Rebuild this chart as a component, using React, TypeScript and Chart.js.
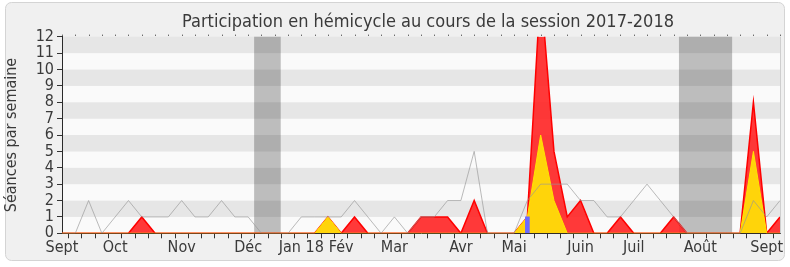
import React, { useEffect, useRef } from 'react';
import { Chart, registerables } from 'chart.js';

Chart.register(...registerables);

const chartTitle = 'Participation en hémicycle au cours de la session 2017-2018';
const yTitle = 'Séances par semaine';
const monthNames = ['Sept', 'Oct', 'Nov', 'Déc', 'Jan 18', 'Fév', 'Mar', 'Avr', 'Mai', 'Juin', 'Juil', 'Août', 'Sept'];
const monthWeeks = [0, 4, 9, 14, 18, 21, 25, 30, 34, 39, 43, 48, 53];
const weekCount = 55;

const presences = [0, 0, 0, 0, 0, 0, 1, 0, 0, 0, 0, 0, 0, 0, 0, 0, 0, 0, 0, 0, 1, 0, 1, 0, 0, 0, 0, 1, 1, 1, 0, 2, 0, 0, 0, 1, 15, 5, 1, 2, 0, 0, 1, 0, 0, 0, 1, 0, 0, 0, 0, 0, 8, 0, 1];
const participations = [0, 0, 0, 0, 0, 0, 0, 0, 0, 0, 0, 0, 0, 0, 0, 0, 0, 0, 0, 0, 1, 0, 0, 0, 0, 0, 0, 0, 0, 0, 0, 0, 0, 0, 0, 1, 6, 2, 0, 0, 0, 0, 0, 0, 0, 0, 0, 0, 0, 0, 0, 0, 5, 0, 0];
const questions = [null, null, null, null, null, null, null, null, null, null, null, null, null, null, null, null, null, null, null, null, null, null, null, null, null, null, null, null, null, null, null, null, null, null, null, 1, null, null, null, null, null, null, null, null, null, null, null, null, null, null, null, null, null, null, null];
const moyenne = [0, 0, 2, 0, 1, 2, 1, 1, 1, 2, 1, 1, 2, 1, 1, 0, 0, 0, 1, 1, 1, 1, 2, 1, 0, 1, 0, 1, 1, 2, 2, 5, 0, 0, 0, 2, 3, 3, 3, 2, 2, 1, 1, 2, 3, 2, 1, 0, 0, 0, 0, 0, 2, 1, 2];
const vacationStarts = [14.45, 46.4];
const vacationEnds = [16.45, 50.4];
const yMax = 12;

const FONT = '"DejaVu Sans Condensed", "DejaVu Sans", sans-serif';
const TEXT = '#3a3a3a';

const weekLabels = Array.from({ length: weekCount }, (_, i) => {
  const k = monthWeeks.indexOf(i);
  return k >= 0 ? monthNames[k] : '';
});

function roundRect(ctx: CanvasRenderingContext2D, x: number, y: number, w: number, h: number, r: number) {
  ctx.beginPath();
  ctx.moveTo(x + r, y);
  ctx.lineTo(x + w - r, y);
  ctx.arcTo(x + w, y, x + w, y + r, r);
  ctx.lineTo(x + w, y + h - r);
  ctx.arcTo(x + w, y + h, x + w - r, y + h, r);
  ctx.lineTo(x + r, y + h);
  ctx.arcTo(x, y + h, x, y + h - r, r);
  ctx.lineTo(x, y + r);
  ctx.arcTo(x, y, x + r, y, r);
  ctx.closePath();
}

const decor = {
  id: 'decor',
  beforeDraw(chart: any) {
    const { ctx, width, height, chartArea: a } = chart;
    const xs = chart.scales.x;
    const ys = chart.scales.y;
    ctx.save();
    ctx.fillStyle = '#ffffff';
    ctx.fillRect(0, 0, width, height);
    roundRect(ctx, 5.5, 2.5, 779, 258, 6);
    ctx.fillStyle = '#f0f0f0';
    ctx.fill();
    ctx.strokeStyle = '#d4d4d4';
    ctx.lineWidth = 1;
    ctx.stroke();
    for (let v = 0; v < yMax; v++) {
      const y0 = ys.getPixelForValue(v);
      const y1 = ys.getPixelForValue(v + 1);
      ctx.fillStyle = v % 2 ? '#e6e6e6' : '#fafafa';
      ctx.fillRect(a.left, y1, a.right - a.left, y0 - y1);
    }
    ctx.fillStyle = 'rgba(0,0,0,0.245)';
    for (let k = 0; k < vacationStarts.length; k++) {
      const x0 = xs.getPixelForValue(vacationStarts[k]);
      const x1 = xs.getPixelForValue(vacationEnds[k]);
      ctx.fillRect(x0, a.top, x1 - x0, a.bottom - a.top);
    }
    ctx.restore();
  },
  afterDraw(chart: any) {
    const { ctx, chartArea: a } = chart;
    const xs = chart.scales.x;
    ctx.save();
    ctx.fillStyle = '#333';
    for (let i = 0; i < weekCount; i++) {
      const px = Math.round(xs.getPixelForValue(i));
      ctx.fillRect(px, a.top - 2, 1, 1);
    }
    ctx.strokeStyle = '#cfcfcf';
    ctx.beginPath();
    ctx.moveTo(a.right + 0.5, a.top);
    ctx.lineTo(a.right + 0.5, a.bottom);
    ctx.stroke();
    ctx.fillStyle = TEXT;
    ctx.font = '18px ' + FONT;
    ctx.textAlign = 'center';
    ctx.textBaseline = 'alphabetic';
    ctx.fillText(chartTitle, 428, 26.5);
    ctx.restore();
  },
};

export default function App() {
  const ref = useRef<HTMLCanvasElement>(null);
  useEffect(() => {
    document.body.style.margin = '0';
    const canvas = ref.current!;
    const chart = new Chart(canvas, {
      data: {
        labels: weekLabels,
        datasets: [
          {
            type: 'line',
            label: 'Moyenne',
            data: moyenne,
            borderColor: 'rgba(150,150,150,0.65)',
            borderWidth: 1,
            pointRadius: 0,
            fill: false,
            order: 0,
          },
          {
            type: 'bar',
            label: 'Questions orales',
            data: questions,
            backgroundColor: '#6a6aff',
            barThickness: 4,
            order: 1,
          },
          {
            type: 'line',
            label: 'Interventions',
            data: participations,
            borderColor: '#ffe400',
            backgroundColor: '#ffd40a',
            borderWidth: 1,
            pointRadius: 0,
            fill: 'origin',
            order: 2,
          },
          {
            type: 'line',
            label: 'Présences',
            data: presences,
            borderColor: '#ff0000',
            backgroundColor: 'rgba(255,35,35,0.9)',
            borderWidth: 1.5,
            pointRadius: 0,
            fill: 'origin',
            order: 3,
          },
        ],
      } as any,
      options: {
        animation: false,
        responsive: false,
        devicePixelRatio: 1,
        layout: { padding: { top: 36.7, right: 10, left: 0, bottom: 0 } },
        plugins: { legend: { display: false }, tooltip: { enabled: false }, title: { display: false } },
        scales: {
          x: {
            type: 'category',
            offset: false,
            grid: { display: true, drawOnChartArea: false, tickLength: 5, color: '#333' },
            border: { display: true, color: '#2a2a2a', width: 1 },
            ticks: {
              autoSkip: false,
              maxRotation: 0,
              minRotation: 0,
              padding: 0,
              color: TEXT,
              font: { family: FONT, size: 16 },
            },
            afterFit: (s: any) => {
              s.height = 33.7;
            },
          },
          y: {
            min: 0,
            max: yMax,
            grid: { display: true, drawOnChartArea: false, tickLength: 5, color: '#333' },
            border: { display: true, color: '#2a2a2a', width: 1 },
            ticks: {
              stepSize: 1,
              autoSkip: false,
              padding: 3,
              color: TEXT,
              font: { family: FONT, size: 16 },
            },
            title: {
              display: true,
              text: yTitle,
              color: TEXT,
              font: { family: FONT, size: 16 },
              padding: { top: 2, bottom: 0 },
            },
            afterFit: (s: any) => {
              s.width = 62;
            },
          },
        },
      },
      plugins: [decor],
    });
    return () => chart.destroy();
  }, []);
  return (
    <div style={{ width: 790, height: 267 }}>
      <canvas ref={ref} width={790} height={267} style={{ display: 'block' }} />
    </div>
  );
}
